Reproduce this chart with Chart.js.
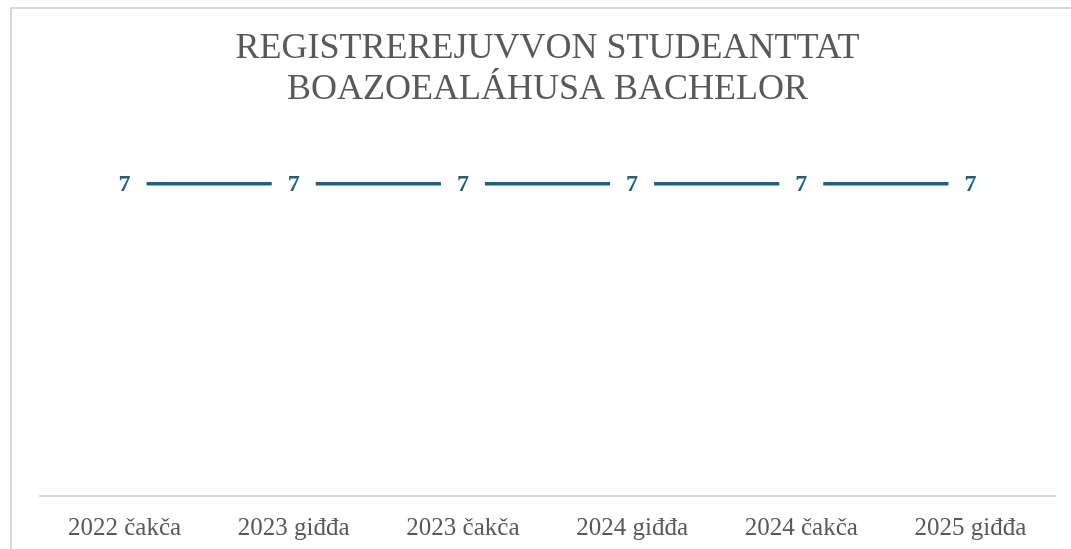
<!DOCTYPE html>
<html>
<head>
<meta charset="utf-8">
<script src="https://cdn.jsdelivr.net/npm/chart.js@4/dist/chart.umd.min.js"></script>
<style>
  html, body { margin: 0; padding: 0; background: #fff; }
  #wrap { width: 1071px; height: 549px; }
</style>
</head>
<body>
<div id="wrap"><canvas id="chart" width="1071" height="549"></canvas></div>
<script>
// chart data
const periods = ['2022 čakča', '2023 giđđa', '2023 čakča', '2024 giđđa', '2024 čakča', '2025 giđđa'];
const students = [7, 7, 7, 7, 7, 7];
const titleLines = ['REGISTREREJUVVON STUDEANTTAT', 'BOAZOEALÁHUSA BACHELOR'];

const lineColor = '#215F80';
const textGrey = '#595959';
const serif = '"Liberation Serif", "Times New Roman", serif';

// light frame round the whole chart
const framePlugin = {
    id: 'framePlugin',
    beforeDraw(chart) {
        const ctx = chart.ctx;
        ctx.save();
        ctx.fillStyle = '#fff';
        ctx.fillRect(0, 0, chart.width, chart.height);
        ctx.strokeStyle = '#d9d9d9';
        ctx.lineWidth = 2;
        ctx.strokeRect(11, 8, chart.width + 20, chart.height + 20);
        ctx.restore();
    }
};

// value labels sitting on the line, with a white box that breaks the line
const valueLabels = {
    id: 'valueLabels',
    afterDatasetsDraw(chart) {
        const ctx = chart.ctx;
        const meta = chart.getDatasetMeta(0);
        ctx.save();
        ctx.font = 'bold 24px ' + serif;
        ctx.textAlign = 'center';
        ctx.textBaseline = 'middle';
        meta.data.forEach((pt, i) => {
            ctx.fillStyle = '#fff';
            ctx.fillRect(pt.x - 22, pt.y - 14, 44, 28);
            ctx.fillStyle = lineColor;
            ctx.fillText(String(students[i]), pt.x, pt.y + 1);
        });
        ctx.restore();
    }
};

new Chart(document.getElementById('chart').getContext('2d'), {
    type: 'line',
    data: {
        labels: periods,
        datasets: [{
            data: students,
            borderColor: lineColor,
            borderWidth: 3.5,
            pointRadius: 0,
            fill: false,
            tension: 0
        }]
    },
    options: {
        responsive: false,
        animation: false,
        layout: { padding: { left: 40, right: 16, top: 8, bottom: 0 } },
        scales: {
            x: {
                offset: true,
                grid: { display: false, drawTicks: false },
                border: { display: true, color: '#d9d9d9', width: 2 },
                ticks: {
                    color: textGrey,
                    padding: 17,
                    maxRotation: 0,
                    font: { family: serif, size: 25 }
                },
                afterFit(scale) { scale.height = 53; }
            },
            y: {
                display: false,
                min: 0,
                max: 8
            }
        },
        plugins: {
            legend: { display: false },
            tooltip: { enabled: false },
            title: {
                display: true,
                text: titleLines,
                color: textGrey,
                font: { family: serif, size: 36, weight: 'normal', lineHeight: 1.14 },
                padding: { top: 20, bottom: 29 }
            }
        }
    },
    plugins: [framePlugin, valueLabels]
});
</script>
</body>
</html>
